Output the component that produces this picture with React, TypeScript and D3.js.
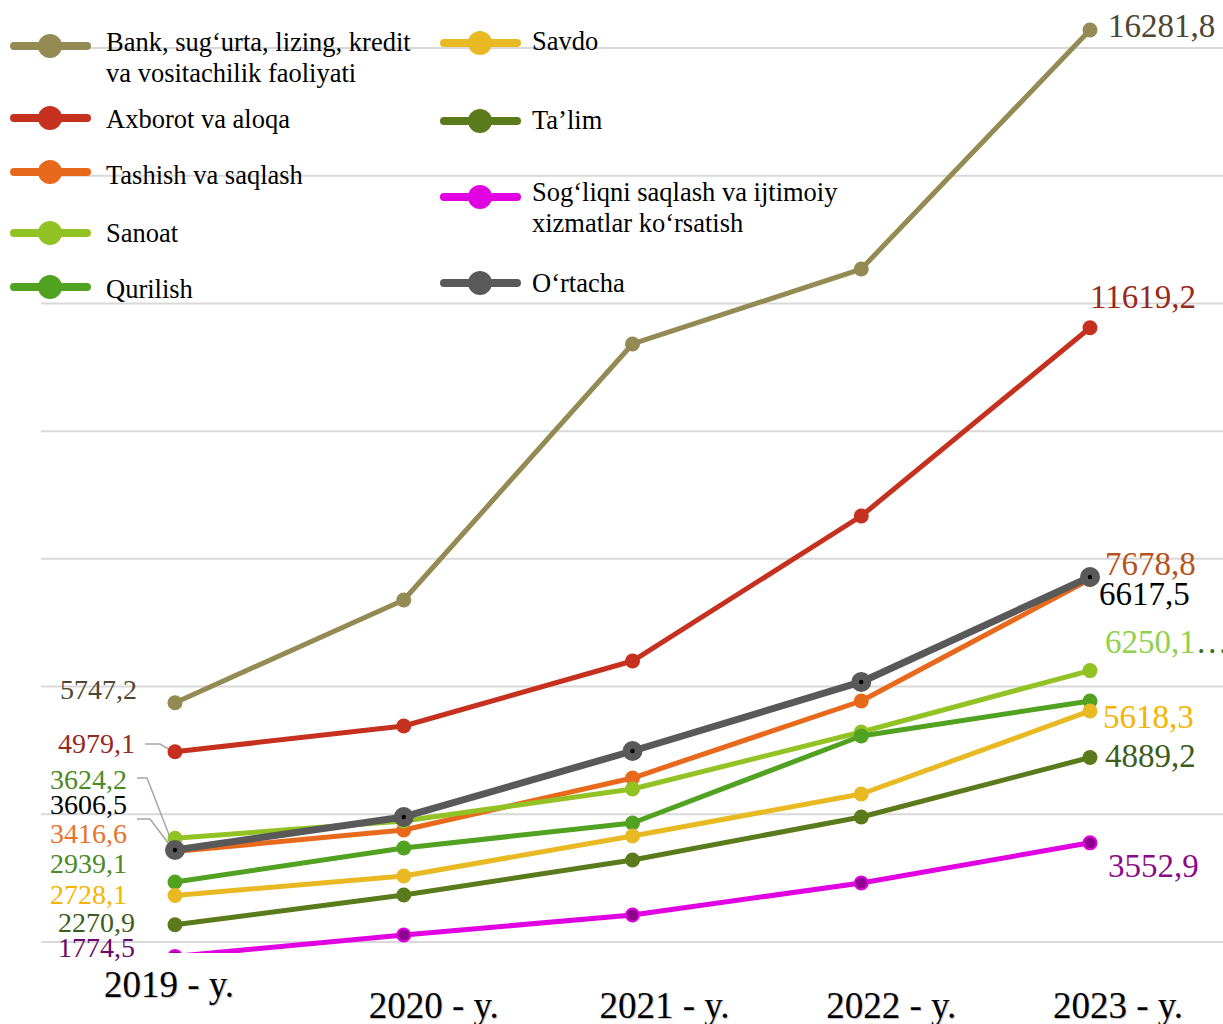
import React from "react";
import * as d3 from "d3";

const years = ["2019 - y.", "2020 - y.", "2021 - y.", "2022 - y.", "2023 - y."];

const bank = [5747.2, 7356, 11365, 12539, 16281.8];
const axborot = [4979.1, 5383, 6400, 8671, 11619.2];
const tashish = [3416.6, 3754, 4568, 5774, 7678.8];
const sanoat = [3624.2, 3895, 4396, 5289, 6250.1];
const qurilish = [2939.1, 3472, 3864, 5226, 5774];
const savdo = [2728.1, 3034, 3660, 4318, 5618.3];
const talim = [2270.9, 2736, 3284, 3958, 4889.2];
const sogliq = [1774.5, 2110, 2423, 2924, 3552.9];
const ortacha = [3441, 3958, 4991, 6072, 7716];

const gridValues = [2000, 4000, 6000, 8000, 10000, 12000, 14000, 16000];

type Series = {
  name: string[];
  values: number[];
  color: string;
  marker?: string;
  markerStroke?: string;
  avg?: boolean;
};

const series: Series[] = [
  { name: ["Bank, sug\u2018urta, lizing, kredit", "va vositachilik faoliyati"], values: bank, color: "#948a54" },
  { name: ["Axborot va aloqa"], values: axborot, color: "#c5311e" },
  { name: ["Tashish va saqlash"], values: tashish, color: "#e8691c" },
  { name: ["Sanoat"], values: sanoat, color: "#93c225" },
  { name: ["Qurilish"], values: qurilish, color: "#52a222" },
  { name: ["Savdo"], values: savdo, color: "#e8b923" },
  { name: ["Ta\u2019lim"], values: talim, color: "#5a7a1c" },
  { name: ["Sog\u2018liqni saqlash va ijtimoiy", "xizmatlar ko\u2018rsatish"], values: sogliq, color: "#e100e1", marker: "#8e008e", markerStroke: "#e100e1" },
  { name: ["O\u2018rtacha"], values: ortacha, color: "#595959", avg: true },
];

// start labels (left side) and end labels (right side)
const startLabels = [
  { text: "5747,2", color: "#4d4632", x: 137, y: 699 },
  { text: "4979,1", color: "#962a1d", x: 135, y: 753 },
  { text: "3624,2", color: "#4b8a26", x: 127, y: 789 },
  { text: "3606,5", color: "#000000", x: 127, y: 814 },
  { text: "3416,6", color: "#e8732a", x: 127, y: 843 },
  { text: "2939,1", color: "#4b8a26", x: 127, y: 873 },
  { text: "2728,1", color: "#f5b400", x: 127, y: 904 },
  { text: "2270,9", color: "#3d5d1c", x: 135, y: 932 },
  { text: "1774,5", color: "#6a0a6a", x: 135, y: 957 },
];

const endLabels = [
  { text: "16281,8", color: "#4d4632", x: 1108, y: 37 },
  { text: "11619,2", color: "#962a1d", x: 1090, y: 308 },
  { text: "7678,8", color: "#b5541c", x: 1105, y: 575 },
  { text: "6617,5", color: "#000000", x: 1099, y: 605 },
  { text: "5618,3", color: "#f5b400", x: 1103, y: 728 },
  { text: "4889,2", color: "#3d5d1c", x: 1105, y: 767 },
  { text: "3552,9", color: "#8b0a8b", x: 1108, y: 877 },
];

const legendPos = [
  { x: 10, y: 46, ty: [51, 82] },
  { x: 10, y: 118, ty: [128] },
  { x: 10, y: 172, ty: [184] },
  { x: 10, y: 233, ty: [242] },
  { x: 10, y: 287, ty: [298] },
  { x: 440, y: 43, ty: [50] },
  { x: 440, y: 121, ty: [129] },
  { x: 440, y: 197, ty: [201, 232] },
  { x: 440, y: 283, ty: [292] },
];

const axisLabelPos = [
  { dx: -6, y: 997 },
  { dx: 30, y: 1018 },
  { dx: 32, y: 1018 },
  { dx: 30, y: 1018 },
  { dx: 28, y: 1018 },
];

const FONT = "'Liberation Serif', 'Times New Roman', serif";

export default function App() {
  const W = 1223;
  const H = 1024;
  const x = d3.scalePoint<string>().domain(years).range([175, 1090]);
  const y = d3.scaleLinear().domain([2000, 16000]).range([942, 48]);
  const line = d3
    .line<number>()
    .x((_, i) => x(years[i]) as number)
    .y((d) => y(d));

  return (
    <svg width={W} height={H} style={{ position: "absolute", left: 0, top: 0, background: "#fff" }}>
      <defs>
        <clipPath id="plotclip">
          <rect x={0} y={0} width={W} height={953} />
        </clipPath>
      </defs>
      <rect x={0} y={0} width={W} height={H} fill="#fff" />
      {gridValues.map((g) => (
        <line key={g} x1={41} x2={W} y1={y(g)} y2={y(g)} stroke="#d9d9d9" strokeWidth={2} />
      ))}

      {/* leader lines */}
      <polyline points="145,744 160,744 172,751" fill="none" stroke="#a6a6a6" strokeWidth={1.5} />
      <polyline points="137,778 147,778 173,845" fill="none" stroke="#a6a6a6" strokeWidth={1.5} />
      <polyline points="137,819 150,819 172,848" fill="none" stroke="#a6a6a6" strokeWidth={1.5} />

      <g clipPath="url(#plotclip)">
        {series.map((s, si) => (
          <g key={si}>
            <path
              d={line(s.values) || ""}
              fill="none"
              stroke={s.color}
              strokeWidth={s.avg ? 7 : 5}
              strokeLinejoin="round"
            />
            {s.values.map((v, i) => (
              <g key={i}>
                <circle
                  cx={x(years[i]) as number}
                  cy={y(v)}
                  r={s.avg ? 10 : s.markerStroke ? 6.5 : 7.5}
                  fill={s.marker || s.color}
                  stroke={s.markerStroke || "none"}
                  strokeWidth={s.markerStroke ? 2 : 0}
                />
                {s.avg && <circle cx={x(years[i]) as number} cy={y(v)} r={2.2} fill="#000" />}
              </g>
            ))}
          </g>
        ))}
      </g>

      {/* legend */}
      {series.map((s, si) => {
        const p = legendPos[si];
        return (
          <g key={si}>
            <line x1={p.x + 4} x2={p.x + 77} y1={p.y} y2={p.y} stroke={s.color} strokeWidth={8} strokeLinecap="round" />
            <circle cx={p.x + 40} cy={p.y} r={12} fill={s.color} />
            {s.name.map((t, ti) => (
              <text key={ti} x={p.x + (si >= 5 ? 92 : 96)} y={p.ty[ti]} fontFamily={FONT} fontSize={26.5} fill="#000">
                {t}
              </text>
            ))}
          </g>
        );
      })}

      {/* value labels */}
      {startLabels.map((l, i) => (
        <text key={i} x={l.x} y={l.y} textAnchor="end" fontFamily={FONT} fontSize={28} fill={l.color}>
          {l.text}
        </text>
      ))}
      {endLabels.map((l, i) => (
        <text key={i} x={l.x} y={l.y} fontFamily={FONT} fontSize={33} fill={l.color}>
          {l.text}
        </text>
      ))}
      <text x={1105} y={653} fontFamily={FONT} fontSize={33}>
        <tspan fill="#8fd14f">6250,1</tspan>
        <tspan fill="#3d6b1c">…</tspan>
      </text>

      {/* x axis labels */}
      {years.map((yr, i) => (
        <text
          key={yr}
          x={(x(yr) as number) + axisLabelPos[i].dx}
          y={axisLabelPos[i].y}
          textAnchor="middle"
          fontFamily={FONT}
          fontSize={37}
          fill="#000"
          style={{ textShadow: "1px 1px 1px rgba(0,0,0,0.25)" }}
        >
          {yr}
        </text>
      ))}
    </svg>
  );
}
